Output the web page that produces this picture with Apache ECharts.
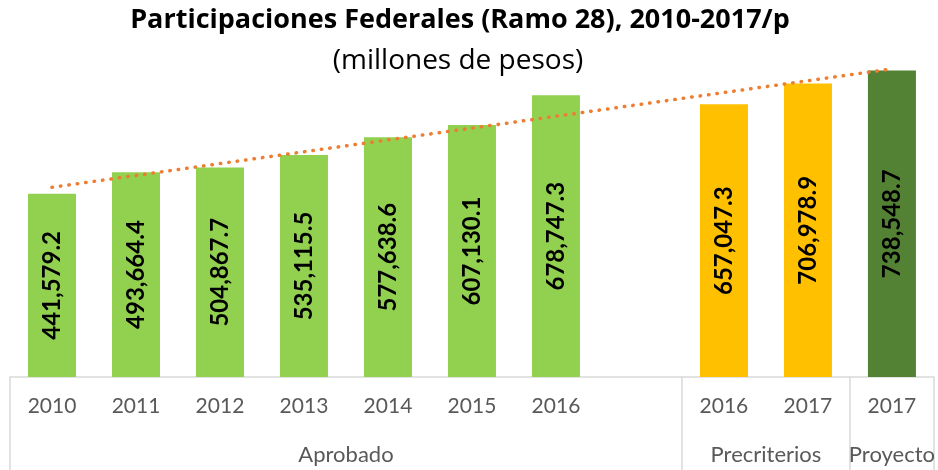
<!DOCTYPE html>
<html>
<head>
<meta charset="utf-8">
<script src="https://cdn.jsdelivr.net/npm/echarts@6/dist/echarts.min.js"></script>
<style>html,body{margin:0;padding:0;background:#fff}#c{width:938px;height:470px}</style>
</head>
<body>
<div id="c"></div>
<script>
var categories = ['2010','2011','2012','2013','2014','2015','2016','','2016','2017','2017'];
var aprobado     = [441579.2, 493664.4, 504867.7, 535115.5, 577638.6, 607130.1, 678747.3, null, null, null, null];
var precriterios = [null, null, null, null, null, null, null, null, 657047.3, 706978.9, null];
var proyecto     = [null, null, null, null, null, null, null, null, null, null, 738548.7];
var trend        = [457100, null, null, null, null, null, null, null, null, null, 742500];
var groupNames   = ['Aprobado', 'Precriterios', 'Proyecto'];
var groupCenters = [3.5, 8.5, 10];
var groupEdges   = [-0.5, 7.5, 9.5, 10.5];

var chart = echarts.init(document.getElementById('c'), null, {renderer: 'canvas'});
function fmt(v) {
  var s = v.toFixed(1).split('.');
  return s[0].replace(/\B(?=(\d{3})+(?!\d))/g, ',') + '.' + s[1];
}
var labelCfg = {
  show: true, position: 'inside', rotate: 90,
  fontFamily: 'Lato', fontWeight: 'bold', fontSize: 24, color: '#000',
  formatter: function (p) { return fmt(p.value); }
};
chart.setOption({
  animation: false,
  graphic: [
    {type: 'text', x: 460, y: 20, style: {text: 'Participaciones Federales (Ramo 28), 2010-2017/p', textAlign: 'center', textVerticalAlign: 'middle', fontFamily: 'Open Sans', fontWeight: 'bold', fontSize: 27, fill: '#000'}},
    {type: 'text', x: 458, y: 61, style: {text: '(millones de pesos)', textAlign: 'center', textVerticalAlign: 'middle', fontFamily: 'Open Sans', fontSize: 28, fill: '#000'}}
  ],
  grid: {left: 10, right: 3, top: 45, bottom: 93, containLabel: false},
  xAxis: [
    {
      type: 'category', data: categories, boundaryGap: true,
      axisLine: {show: true, lineStyle: {color: '#d9d9d9', width: 1.5}},
      axisTick: {show: false},
      axisLabel: {fontFamily: 'Lato', fontSize: 21, color: '#595959', margin: 19, interval: 0}
    },
    {
      type: 'value', min: -0.5, max: 10.5, position: 'bottom',
      splitLine: {show: false},
      axisLine: {show: false},
      axisTick: {show: true, customValues: groupEdges, length: 95, lineStyle: {color: '#d9d9d9', width: 1.5}},
      axisLabel: {
        customValues: groupCenters, fontFamily: 'Lato', fontSize: 22, color: '#595959', margin: 67,
        formatter: function (v) { return groupNames[groupCenters.indexOf(v)]; }
      }
    }
  ],
  yAxis: {type: 'value', min: 0, max: 800000, show: false, splitLine: {show: false}},
  series: [
    {type: 'bar', data: aprobado, barWidth: 48, barGap: '-100%', itemStyle: {color: '#92D050'}, label: labelCfg},
    {type: 'bar', data: precriterios, barWidth: 48, barGap: '-100%', itemStyle: {color: '#FFC000'}, label: labelCfg},
    {type: 'bar', data: proyecto, barWidth: 48, barGap: '-100%', itemStyle: {color: '#548235'}, label: labelCfg},
    {type: 'line', data: trend, connectNulls: true, symbol: 'none', z: 5,
     lineStyle: {color: '#ED7D31', width: 3.5, type: [0.5, 8], cap: 'round'}}
  ]
});
</script>
</body>
</html>
